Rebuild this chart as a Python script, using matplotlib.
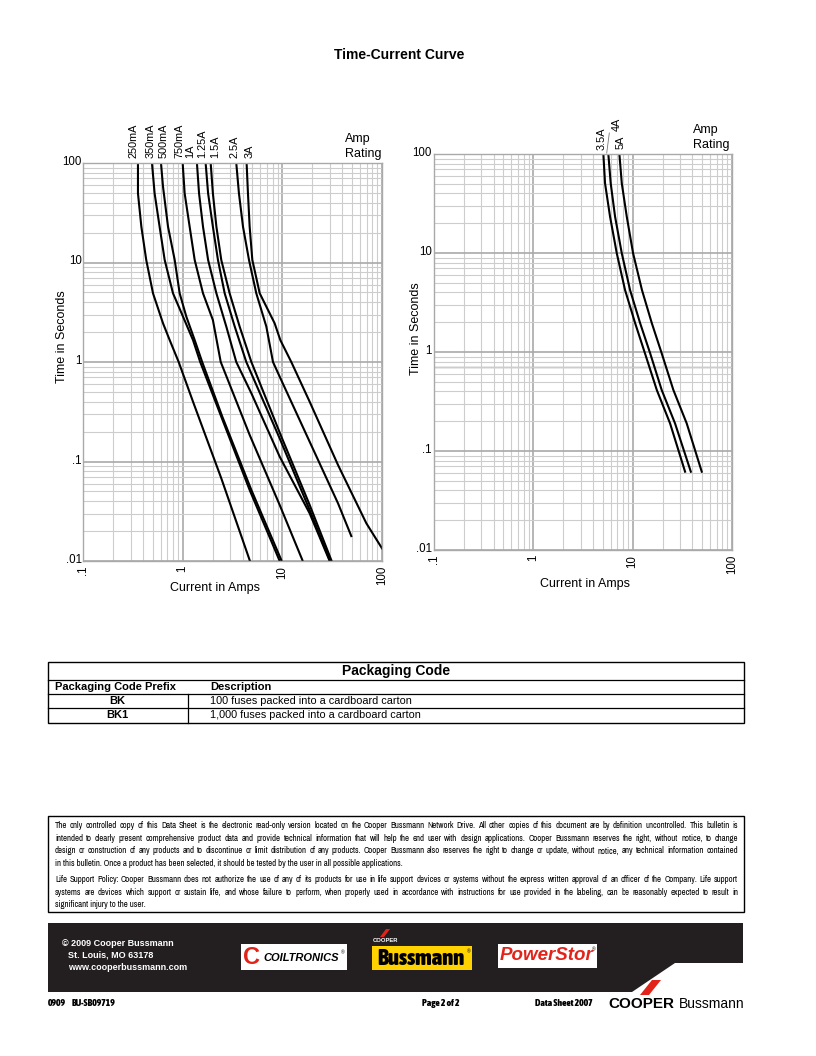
import numpy as np
import matplotlib
matplotlib.use('Agg')
import matplotlib.pyplot as plt
from matplotlib import font_manager
from matplotlib.font_manager import FontProperties
from matplotlib.patches import Rectangle, Polygon
from matplotlib.lines import Line2D
from matplotlib.ticker import FixedLocator, LogLocator, NullFormatter
from matplotlib import transforms

# ------------------------------------------------------------------ data
x_ticks = [0.1, 1, 10, 100]
x_tick_labels = ['.1', '1', '10', '100']
y_ticks = [0.01, 0.1, 1, 10, 100]
y_tick_labels = ['.01', '.1', '1', '10', '100']

left_ratings = ['250mA', '350mA', '500mA', '750mA', '1A', '1.25A', '1.5A', '2.5A', '3A']
left_label_x = [0.319, 0.481, 0.641, 0.94, 1.18, 1.58, 2.11, 3.35, 4.66]

c250_I = [0.356, 0.356, 0.385, 0.431, 0.504, 0.635, 0.741, 0.912, 1.27, 2.44, 4.70]
c250_t = [100, 49.5, 22.9, 10.6, 4.9, 2.45, 1.66, 1.0, 0.399, 0.0678, 0.0102]
c350_I = [0.492, 0.523, 0.587, 0.660, 0.80, 1.008, 1.27, 1.50, 2.44, 4.70, 9.33]
c350_t = [100, 49.5, 22.9, 10.6, 4.9, 2.86, 1.66, 1.0, 0.282, 0.0517, 0.0102]
c500_I = [0.606, 0.635, 0.713, 0.832, 0.933, 1.088, 1.32, 1.57, 2.50, 4.89, 9.77]
c500_t = [100, 57.8, 22.9, 10.6, 4.9, 2.86, 1.66, 1.0, 0.282, 0.0517, 0.0102]
c750_I = [1.0, 1.047, 1.175, 1.32, 1.60, 2.01, 2.41, 4.70, 9.40, 15.9]
c750_t = [100, 49.5, 22.9, 10.6, 4.9, 2.64, 1.0, 0.185, 0.0366, 0.0102]
c1_I = [1.39, 1.46, 1.60, 1.80, 2.18, 2.74, 3.45, 4.89, 9.40, 18.8, 29.6]
c1_t = [100, 49.5, 22.9, 10.6, 4.9, 2.27, 1.0, 0.485, 0.112, 0.0301, 0.0102]
c125_I = [1.70, 1.80, 2.01, 2.26, 2.64, 3.33, 4.35, 9.40, 18.8, 29.9]
c125_t = [100, 49.5, 22.9, 10.6, 4.9, 2.27, 1.0, 0.171, 0.0325, 0.0102]
c15_I = [1.91, 2.01, 2.18, 2.44, 2.96, 3.73, 4.89, 9.77, 18.8, 31.0]
c15_t = [100, 49.5, 22.9, 10.6, 4.9, 2.27, 1.0, 0.178, 0.0366, 0.0102]
c25_I = [3.45, 3.67, 4.03, 4.63, 5.48, 6.91, 8.06, 9.40, 18.8, 36.2, 49.2]
c25_t = [100, 49.5, 22.9, 10.6, 4.9, 2.27, 1.0, 0.713, 0.158, 0.038, 0.0178]
c3_I = [4.38, 4.52, 4.70, 5.00, 5.93, 8.37, 9.55, 12.3, 18.8, 36.2, 69.7, 100]
c3_t = [100, 49.5, 22.9, 10.6, 4.9, 2.45, 1.66, 1.0, 0.399, 0.0922, 0.0239, 0.0134]

right_ratings = ['3.5A', '4A', '5A']
right_label_x = [4.89, 6.92, 7.59]
r_t = [100, 50.6, 23.3, 9.93, 4.23, 1.95, 0.97, 0.413, 0.19, 0.0618]
r35_I = [5.07, 5.27, 5.92, 6.92, 8.38, 10.6, 13.3, 17.5, 23.8, 33.7]
r4_I = [5.69, 6.01, 6.65, 7.77, 9.41, 11.9, 15.0, 19.6, 26.7, 38.5]
r5_I = [7.35, 7.77, 8.72, 10.1, 12.4, 15.6, 19.6, 25.7, 35.0, 49.6]

table_title = 'Packaging Code'
table_header = ['Packaging Code Prefix', 'Description']
table_prefix = ['BK', 'BK1']
table_desc = ['100 fuses packed into a cardboard carton',
              '1,000 fuses packed into a cardboard carton']

disclaimer_p1 = [
    'The only controlled copy of this Data Sheet is the electronic read-only version located on the Cooper Bussmann Network Drive. All other copies of this document are by definition uncontrolled. This bulletin is',
    'intended to clearly present comprehensive product data and provide technical information that will help the end user with design applications. Cooper Bussmann reserves the right, without notice, to change',
    'design or construction of any products and to discontinue or limit distribution of any products. Cooper Bussmann also reserves the right to change or update, without notice, any technical information contained',
    'in this bulletin. Once a product has been selected, it should be tested by the user in all possible applications.',
]
disclaimer_p2 = [
    'Life Support Policy: Cooper Bussmann does not authorize the use of any of its products for use in life support devices or systems without the express written approval of an officer of the Company. Life support',
    'systems are devices which support or sustain life, and whose failure to perform, when properly used in accordance with instructions for use provided in the labeling, can be reasonably expected to result in',
    'significant injury to the user.',
]

# ------------------------------------------------------------------ setup
W, H = 816, 1056
plt.rcParams['font.family'] = ['Liberation Sans', 'DejaVu Sans']


def find_narrow(bold=False):
    best = None
    best_rank = 99
    for f in font_manager.fontManager.ttflist:
        if f.style != 'normal':
            continue
        w = f.weight
        try:
            w = int(w)
        except (TypeError, ValueError):
            w = 700 if str(w).lower() in ('bold', 'heavy', 'black', 'extra bold', 'demibold') else 400
        if bold != (w >= 600):
            continue
        nm = f.name
        st = str(f.stretch).lower()
        if nm == 'Liberation Sans Narrow':
            rank = 0
        elif 'Narrow' in nm or 'Condensed' in nm:
            rank = 1
        elif 'condensed' in st:
            rank = 2
        else:
            continue
        if rank < best_rank:
            best_rank, best = rank, f.fname
    return best


_nr = find_narrow(False)
_nb = find_narrow(True)


def narrow_fp(size, bold=False):
    path = _nb if bold else _nr
    if path:
        return FontProperties(fname=path, size=size)
    return FontProperties(family='Liberation Sans', size=size,
                          weight='bold' if bold else 'normal')


fig = plt.figure(figsize=(W / 100, H / 100), dpi=100)
fig.patch.set_facecolor('white')


def fx(x):
    return x / W


def fy(y):
    return 1 - y / H


def ftext(x, y, s, **kw):
    return fig.text(fx(x), fy(y), s, **kw)


def frect(x0, y0, x1, y1, **kw):
    r = Rectangle((fx(x0), fy(y1)), (x1 - x0) / W, (y1 - y0) / H,
                  transform=fig.transFigure, **kw)
    fig.add_artist(r)
    return r


def fline(x0, y0, x1, y1, **kw):
    l = Line2D([fx(x0), fx(x1)], [fy(y0), fy(y1)], transform=fig.transFigure, **kw)
    fig.add_artist(l)


def fpoly(pts, **kw):
    p = Polygon([(fx(a), fy(b)) for a, b in pts], closed=True,
                transform=fig.transFigure, **kw)
    fig.add_artist(p)


MAJ = '#a9a9a9'
MIN = '#cdcdcd'
up = transforms.ScaledTranslation(0, 2.5 / 100, fig.dpi_scale_trans)


def setup(ax, ypad):
    ax.set_xscale('log')
    ax.set_yscale('log')
    ax.set_xlim(0.1, 100)
    ax.set_ylim(0.01, 100)
    ax.xaxis.set_major_locator(FixedLocator(x_ticks))
    ax.yaxis.set_major_locator(FixedLocator(y_ticks))
    ax.xaxis.set_minor_locator(LogLocator(base=10, subs=np.arange(2, 10), numticks=30))
    ax.yaxis.set_minor_locator(LogLocator(base=10, subs=np.arange(2, 10), numticks=30))
    ax.xaxis.set_minor_formatter(NullFormatter())
    ax.yaxis.set_minor_formatter(NullFormatter())
    ax.set_xticklabels(x_tick_labels, rotation=90, fontsize=8.3)
    ax.set_yticklabels(y_tick_labels, fontsize=8.3)
    ax.tick_params(which='both', length=0)
    ax.tick_params(axis='x', pad=3.5)
    ax.tick_params(axis='y', pad=ypad)
    for lab in ax.get_yticklabels():
        lab.set_transform(lab.get_transform() + up)
    ax.grid(which='major', color=MAJ, lw=1.2)
    ax.grid(which='minor', color=MIN, lw=0.8)
    for s in ax.spines.values():
        s.set_color(MAJ)
        s.set_linewidth(1.0)
    ax.set_axisbelow(True)


# ---------------- left chart
axL = fig.add_axes([83 / W, 1 - 561 / H, 299 / W, 398 / H])
setup(axL, 1.0)
left_curves = [(c250_I, c250_t), (c350_I, c350_t), (c500_I, c500_t), (c750_I, c750_t),
               (c1_I, c1_t), (c125_I, c125_t), (c15_I, c15_t), (c25_I, c25_t), (c3_I, c3_t)]
for I, t in left_curves:
    axL.plot(I, t, color='black', lw=1.5, solid_joinstyle='round')
trL = transforms.blended_transform_factory(axL.transData, axL.transAxes)
for lab, x in zip(left_ratings, left_label_x):
    axL.text(x, 1 + 5 / 398, lab, transform=trL, rotation=90, ha='center', va='bottom',
             fontsize=7.8)

# ---------------- right chart
axR = fig.add_axes([434 / W, 1 - 550 / H, 298 / W, 396 / H])
setup(axR, 1.5)
axR.axhline(0.7, color='#8f8f8f', lw=1.0, zorder=0.5)
for I in (r35_I, r4_I, r5_I):
    axR.plot(I, r_t, color='black', lw=1.5, solid_joinstyle='round')
trR = transforms.blended_transform_factory(axR.transData, axR.transAxes)
label_raise = [4 / 396, 23 / 396, 5 / 396]
for lab, x, dy in zip(right_ratings, right_label_x, label_raise):
    axR.text(x, 1 + dy, lab, transform=trR, rotation=90, ha='center', va='bottom',
             fontsize=7.8)
axR.add_line(Line2D([5.82, 5.48], [1 + 21 / 396, 1 + 1 / 396], transform=trR,
                    color='#777777', lw=0.6, clip_on=False))

# ---------------- chart texts
ftext(399, 55, 'Time-Current Curve', fontsize=10, fontweight='bold', ha='center', va='center')
ftext(345, 139, 'Amp', fontsize=9, ha='left', va='center')
ftext(345, 154, 'Rating', fontsize=9, ha='left', va='center')
ftext(693, 130, 'Amp', fontsize=9, ha='left', va='center')
ftext(693, 145, 'Rating', fontsize=9, ha='left', va='center')
ftext(62, 337, 'Time in Seconds', fontsize=9, rotation=90, ha='center', va='center')
ftext(416, 329, 'Time in Seconds', fontsize=9, rotation=90, ha='center', va='center')
ftext(215, 588, 'Current in Amps', fontsize=9, ha='center', va='center')
ftext(585, 584, 'Current in Amps', fontsize=9, ha='center', va='center')

# ---------------- packaging table
frect(48, 662, 744, 723, facecolor='none', edgecolor='black', lw=1.0)
for yy in (680, 694, 708):
    fline(48, yy, 744, yy, color='black', lw=0.9)
fline(188, 694, 188, 723, color='black', lw=0.9)
ftext(396, 671, table_title, fontsize=10, fontweight='bold', ha='center', va='center')
ftext(55, 687, table_header[0], fontsize=8, fontweight='bold', ha='left', va='center')
ftext(210, 687, table_header[1], fontsize=8, fontweight='bold', ha='left', va='center')
for i, (p, d) in enumerate(zip(table_prefix, table_desc)):
    yy = 701 + i * 14.5
    ftext(117, yy, p, fontsize=8, fontweight='bold', ha='center', va='center')
    ftext(210, yy, d, fontsize=7.8, ha='left', va='center')

# ---------------- disclaimer box (justified text)
frect(48, 816, 744, 912, facecolor='none', edgecolor='black', lw=1.0)
renderer = fig.canvas.get_renderer()
X0, X1 = 55, 738
just_lines = disclaimer_p1[:-1] + disclaimer_p2[:-1]
tmp = fig.text(0, 0, '', fontproperties=narrow_fp(6))
ratios = []
for ln in just_lines:
    tmp.set_text(ln)
    ratios.append((X1 - X0) / tmp.get_window_extent(renderer).width)
tmp.remove()
dsize = min(6.8, 6 * min(ratios) * 0.985)
dfp = narrow_fp(dsize)


def draw_line(line, y, justify):
    yb = y + 2.2
    if not justify:
        ftext(X0, yb, line, fontproperties=dfp, ha='left', va='baseline')
        return
    words = line.split(' ')
    arts = [ftext(0, yb, w, fontproperties=dfp, ha='left', va='baseline') for w in words]
    widths = [a.get_window_extent(renderer).width for a in arts]
    gap = (X1 - X0 - sum(widths)) / (len(words) - 1)
    x = X0
    for a, w in zip(arts, widths):
        a.set_x(fx(x))
        x += w + gap


for i, ln in enumerate(disclaimer_p1):
    draw_line(ln, 826 + i * 12.6, i < len(disclaimer_p1) - 1)
for i, ln in enumerate(disclaimer_p2):
    draw_line(ln, 880 + i * 12.6, i < len(disclaimer_p2) - 1)

# ---------------- footer band
fpoly([(48, 923), (743, 923), (743, 963), (675, 963), (632, 992), (48, 992)],
      facecolor='#231f20', edgecolor='none')
ftext(62, 943, '\u00a9 2009 Cooper Bussmann', fontsize=6.5, fontweight='bold', color='white',
      ha='left', va='center')
ftext(68, 955, 'St. Louis, MO 63178', fontsize=6.5, fontweight='bold', color='white',
      ha='left', va='center')
ftext(68, 967, 'www.cooperbussmann.com', fontsize=6.5, fontweight='bold', color='white',
      ha='left', va='center')

RED = '#e2231a'
# Coiltronics
frect(241, 944, 347, 970, facecolor='white', edgecolor='none')
ftext(243, 957, 'C', fontsize=17, fontweight='bold', color=RED, ha='left', va='center')
ftext(263, 958, 'COILTRONICS', fontsize=8, fontweight='bold', style='italic', color='black',
      ha='left', va='center')
ftext(341, 953, '\u00ae', fontsize=3.5, color='black', ha='left', va='center')
# Bussmann
frect(372, 946, 472, 970, facecolor='#ffd200', edgecolor='none')
fpoly([(380, 937), (384, 937), (390, 929), (386, 929)], facecolor=RED, edgecolor='none')
ftext(373, 940, 'COOPER', fontsize=4.2, fontweight='bold', color='white', ha='left', va='center')
ftext(421, 959, 'Bussmann', fontproperties=narrow_fp(16.5, True), color='black', ha='center',
      va='center')
ftext(467, 952, '\u00ae', fontsize=3.5, color='black', ha='left', va='center')
# PowerStor
frect(498, 944, 597, 968, facecolor='white', edgecolor='none')
ftext(547, 956, 'PowerStor', fontsize=13.5, fontweight='bold', style='italic', color=RED,
      ha='center', va='center')
ftext(592, 950, '\u00ae', fontsize=3.5, color='black', ha='left', va='center')

# bottom row
bfp = narrow_fp(6.8, True)
ftext(48, 1003, '0909', fontproperties=bfp, ha='left', va='center')
ftext(72, 1003, 'BU-SB09719', fontproperties=bfp, ha='left', va='center')
ftext(441, 1003, 'Page 2 of 2', fontproperties=bfp, ha='center', va='center')
ftext(564, 1003, 'Data Sheet 2007', fontproperties=bfp, ha='center', va='center')
fpoly([(640, 995), (649, 995), (661, 980), (652, 980)], facecolor=RED, edgecolor='none')
ftext(608, 1004, 'COOPER', fontsize=11, fontweight='bold', color='black', ha='left', va='center')
ftext(744, 1004, 'Bussmann', fontsize=10, color='black', ha='right', va='center')

fig.savefig('out.png', dpi=100, facecolor='white')
